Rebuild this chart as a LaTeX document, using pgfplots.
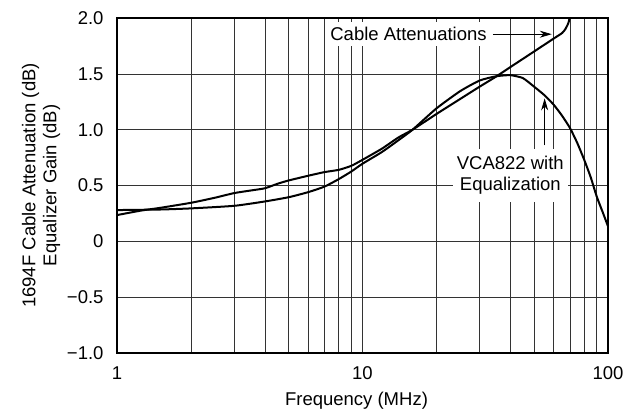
\documentclass[border=0pt]{standalone}
\usepackage{fontspec}
\setmainfont{Liberation Sans}
\usepackage{pgfplots}
\pgfplotsset{compat=1.18}
\usetikzlibrary{arrows.meta}

% cable attenuation (dB) vs frequency (MHz)
\pgfplotstableread{
f     att
1     0.235
1.25  0.275
1.5   0.300
2     0.345
2.5   0.390
3     0.432
3.5   0.455
4     0.475
4.5   0.515
5     0.545
6     0.587
7     0.620
8     0.640
9     0.676
10    0.730
12    0.830
14    0.930
16    1.000
20    1.140
25    1.275
30    1.385
35    1.475
40    1.560
50    1.700
60    1.815
65    1.865
67    1.900
68.5  1.940
69.3  1.970
69.7  2.000
}\cable

% equalizer gain (dB)
\pgfplotstableread{
f     gain
1     0.280
1.5   0.285
2     0.295
3     0.318
4     0.357
5     0.395
6     0.440
7     0.490
8     0.557
9     0.625
10    0.695
12    0.800
14    0.905
16    1.000
20    1.190
25    1.345
30    1.440
35    1.478
40    1.488
45    1.462
50    1.385
55    1.310
60    1.225
65    1.125
70    1.015
75    0.880
80    0.730
85    0.575
90    0.400
95    0.265
100   0.135
}\equal

\begin{document}
\begin{tikzpicture}[font=\fontsize{18.5bp}{21bp}\selectfont]
\useasboundingbox (-117bp,-66bp) rectangle (511bp,353bp);
\begin{axis}[
    xmode=log,
    scale only axis,
    width=491bp, height=335bp,
    xmin=1, xmax=100,
    ymin=-1, ymax=2,
    xtick={1,10,100},
    xticklabels={1,10,100},
    ytick={-1,-0.5,0,0.5,1,1.5,2},
    yticklabels={−1.0,−0.5,0,0.5,1.0,1.5,2.0},
    grid=both,
    major grid style={line width=0.6bp, black!80},
    minor grid style={line width=0.6bp, black!80},
    major tick length=0pt, minor tick length=0pt,
    axis line style={line width=1.7bp},
    yticklabel style={xshift=-10bp},
    xticklabel style={yshift=-10bp},
    xlabel={Frequency (MHz)},
    ylabel={1694F Cable Attenuation (dB)\\Equalizer Gain (dB)},
    ylabel style={align=center},
    ylabel shift=0bp,
    xlabel style={yshift=-6bp, xshift=-6bp},
    clip=false,
]
\addplot[line width=2bp, smooth, tension=0.35] table[x=f, y=att] {\cable};
\addplot[line width=2bp, smooth, tension=0.35] table[x=f, y=gain] {\equal};

\node[fill=white, inner xsep=2bp, inner ysep=5bp] at (axis cs:15.4,1.855) {Cable Attenuations};
\draw[line width=0.8bp, -{Stealth[length=12bp,width=7bp]}] (axis cs:34,1.855) -- (axis cs:59,1.855);

\node[fill=white, align=center, inner xsep=4bp, inner ysep=7bp] at (axis cs:40,0.59) {VCA822 with\\Equalization};
\draw[line width=0.8bp, -{Stealth[length=12bp,width=7bp]}] (axis cs:55.2,0.86) -- (axis cs:55.2,1.28);
\end{axis}
\end{tikzpicture}
\end{document}
